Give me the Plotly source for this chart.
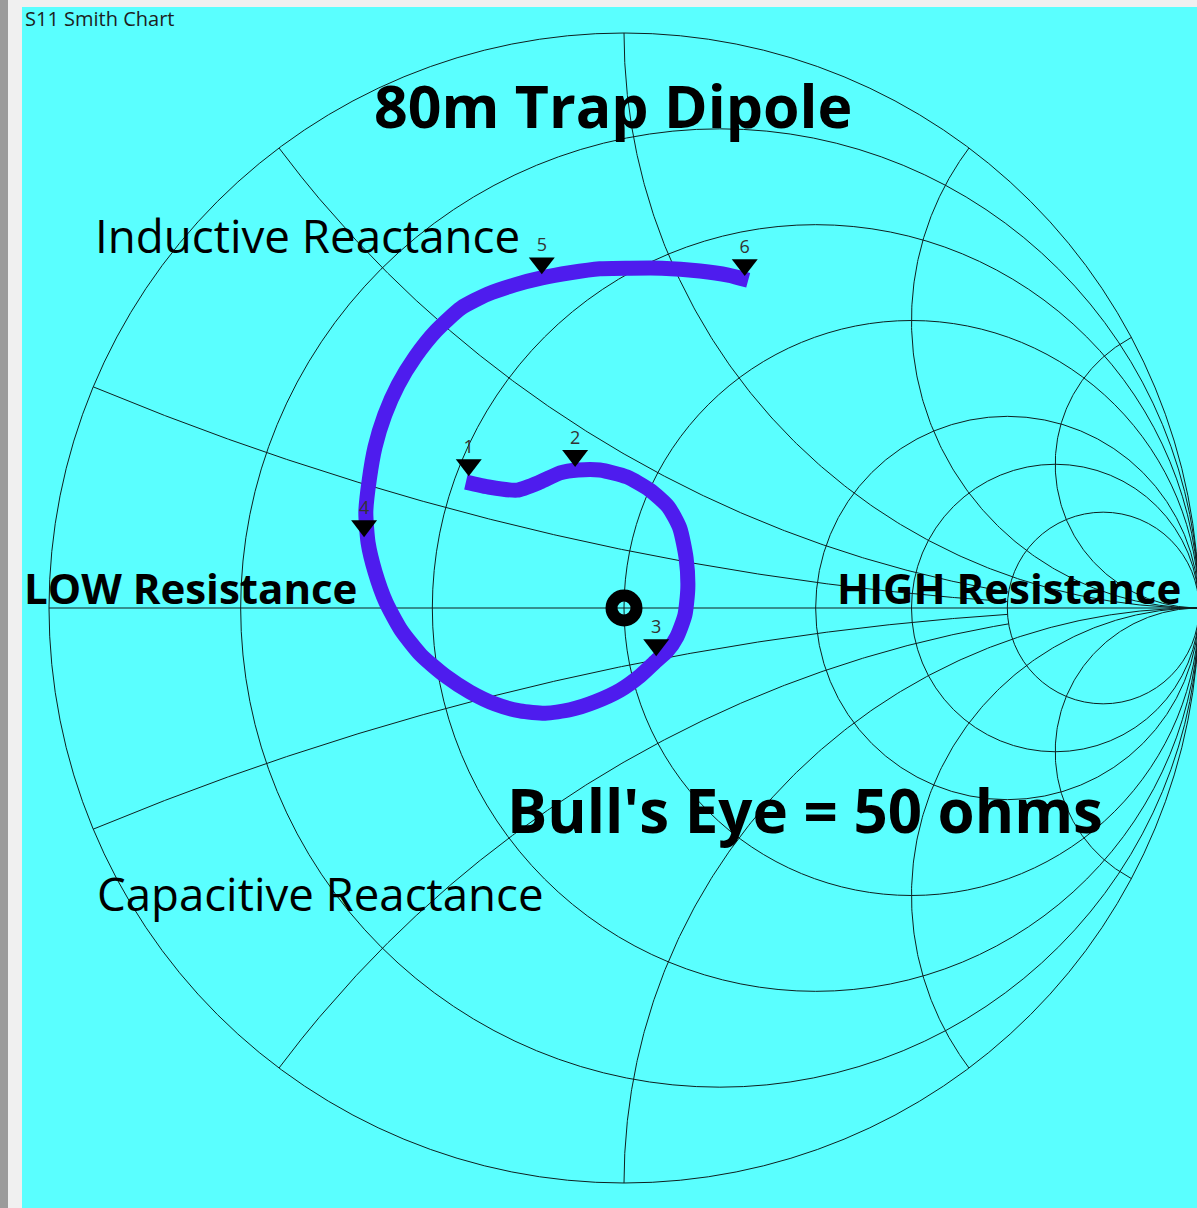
import numpy as np
import plotly.graph_objects as go

# Measured sweep: S11 reflection coefficient (real / imaginary parts)
s11_re = [-0.275, -0.233, -0.186, -0.146, -0.111, -0.080, -0.042, 0.005, 0.045, 0.077,
          0.097, 0.108, 0.111, 0.106, 0.092, 0.075, 0.056, 0.028, -0.007, -0.050,
          -0.094, -0.137, -0.181, -0.224, -0.268, -0.311, -0.353, -0.388, -0.414, -0.433,
          -0.445, -0.449, -0.443, -0.433, -0.416, -0.393, -0.363, -0.327, -0.283, -0.237,
          -0.190, -0.143, -0.094, -0.042, 0.010, 0.066, 0.132, 0.181, 0.216]
s11_im = [0.219, 0.210, 0.205, 0.219, 0.235, 0.240, 0.240, 0.228, 0.205, 0.176,
          0.139, 0.087, 0.035, -0.012, -0.050, -0.075, -0.092, -0.118, -0.143, -0.163,
          -0.177, -0.183, -0.179, -0.167, -0.146, -0.118, -0.082, -0.038, 0.010, 0.063,
          0.113, 0.167, 0.223, 0.280, 0.336, 0.388, 0.437, 0.482, 0.522, 0.546,
          0.562, 0.574, 0.583, 0.590, 0.591, 0.591, 0.586, 0.579, 0.570]

# Sweep markers
marker_ids = ["1", "2", "3", "4", "5", "6"]
marker_re = [-0.270, -0.085, 0.056, -0.452, -0.143, 0.210]
marker_im = [0.221, 0.237, -0.092, 0.115, 0.572, 0.569]

# Reference impedance and the bull's eye
Z0_OHMS = 50.0
bullseye_ohms = 50.0

# Smith grid (normalised): constant-resistance circles, constant-reactance arcs
resistance_circles = [0.2, 0.5, 1, 2, 3, 5]
reactance_arcs = [0.2, 0.5, 1, 2, 4]
reactance_arc_rmax = [5, 5, None, None, None]   # the two short arcs stop at r = 5

W, H = 1197, 1208
CHART_BG = "#5affff"
TRACE_COLOR = "rgb(78,28,238)"
GRID = dict(color="#0e2020", width=1)
FONT = "Open Sans"


def to_gamma(z):
    return (z - 1) / (z + 1)


fig = go.Figure()

shapes = [
    dict(type="rect", xref="paper", yref="paper", x0=22 / W, x1=1, y0=0, y1=1 - 7 / H,
         fillcolor=CHART_BG, line_width=0, layer="below"),
    dict(type="rect", xref="paper", yref="paper", x0=0, x1=8 / W, y0=0, y1=1,
         fillcolor="#9b9b9b", line_width=0, layer="below"),
]

# outer circle (r = 0) and constant-resistance circles
for r in [0] + resistance_circles:
    c = r / (1 + r)
    rad = 1 / (1 + r)
    shapes.append(dict(type="circle", xref="x", yref="y", x0=c - rad, x1=c + rad,
                       y0=-rad, y1=rad, line=GRID, layer="below"))
# real axis
shapes.append(dict(type="line", xref="x", yref="y", x0=-1, x1=1, y0=0, y1=0,
                   line=GRID, layer="below"))

# constant-reactance arcs, above and below the real axis
for xv, rmax in zip(reactance_arcs, reactance_arc_rmax):
    r_end = rmax if rmax else 1e4
    rs = np.concatenate([[0.0], np.geomspace(1e-3, r_end, 900)])
    for sign in (1, -1):
        g = to_gamma(rs + 1j * sign * xv)
        fig.add_trace(go.Scatter(x=g.real, y=g.imag, mode="lines", line=GRID,
                                 hoverinfo="skip", showlegend=False))

# the sweep trace
fig.add_trace(go.Scatter(x=s11_re, y=s11_im, mode="lines",
                         line=dict(color=TRACE_COLOR, width=15, shape="spline", smoothing=0.6),
                         hoverinfo="skip", showlegend=False))

# bull's eye at the reference impedance
g0 = to_gamma(complex(bullseye_ohms / Z0_OHMS, 0))
fig.add_trace(go.Scatter(x=[g0.real], y=[g0.imag], mode="markers",
                         marker=dict(symbol="circle-open", size=25, color="black",
                                     line=dict(color="black", width=12)),
                         hoverinfo="skip", showlegend=False))

# marker triangles (tip on the sweep point) and their numbers
fig.add_trace(go.Scatter(x=marker_re, y=marker_im, mode="markers",
                         marker=dict(symbol="triangle-up", angle=180, standoff=16,
                                     size=22.5, color="black", line=dict(width=0)),
                         hoverinfo="skip", showlegend=False))
fig.add_trace(go.Scatter(x=marker_re, y=marker_im, mode="markers+text", text=marker_ids,
                         textposition="top center",
                         textfont=dict(family=FONT, size=18, color="#333333"),
                         marker=dict(size=36, color="rgba(0,0,0,0)"),
                         hoverinfo="skip", showlegend=False))


def label(text, px, py, size, bold=False, anchor="left", color="black"):
    return dict(text=f"<b>{text}</b>" if bold else text, x=px / W, y=1 - py / H,
                xref="paper", yref="paper", xanchor=anchor, yanchor="middle",
                showarrow=False, font=dict(family=FONT, size=size, color=color))


annotations = [
    label("S11 Smith Chart", 23, 19, 20, color="#1e1e1e"),
    label("80m Trap Dipole", 613, 105, 59, bold=True, anchor="center"),
    label("Inductive Reactance", 93, 235, 45.7),
    label("LOW Resistance", 22, 588, 42, bold=True),
    label("HIGH Resistance", 835, 587, 42, bold=True),
    label("Bull's Eye = 50 ohms", 505, 810, 60, bold=True),
    label("Capacitive Reactance", 95, 893, 45.6),
]

# Γ-plane axes: unit circle centred at (624, 608) px with a 575 px radius
SCALE = 575.0
x_min = -1 - 49 / SCALE
y_max = 608 / SCALE
fig.update_layout(
    width=W, height=H, autosize=False,
    margin=dict(l=0, r=0, t=0, b=0),
    paper_bgcolor="#f0f0f0", plot_bgcolor="rgba(0,0,0,0)",
    xaxis=dict(range=[x_min, x_min + W / SCALE], visible=False, fixedrange=True),
    yaxis=dict(range=[y_max - H / SCALE, y_max], visible=False, fixedrange=True),
    shapes=shapes, annotations=annotations, showlegend=False,
)

fig.write_html("out.html")
